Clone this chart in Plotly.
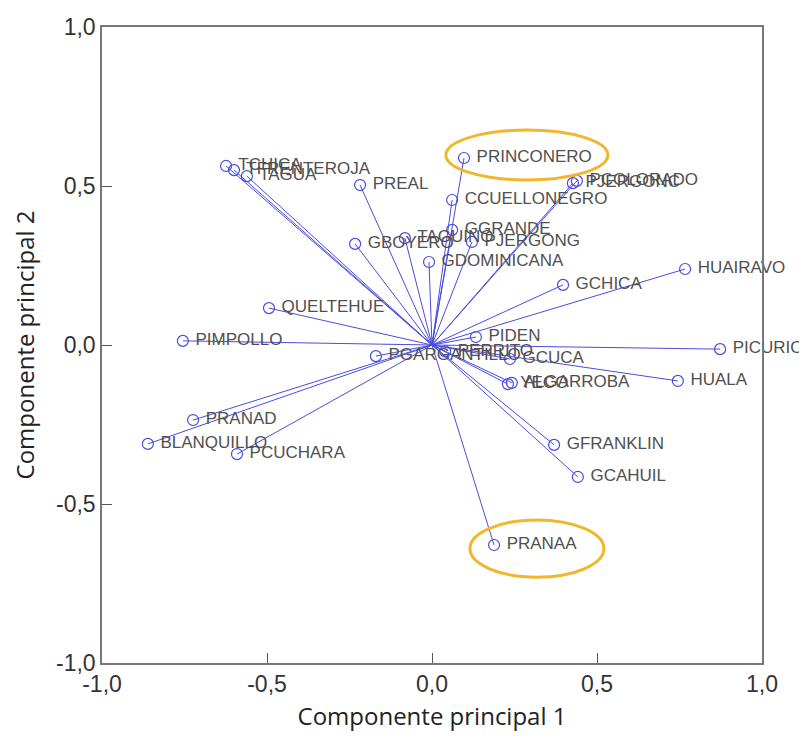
import plotly.graph_objects as go

labels = ["TCHICA", "TFRENTEROJA", "TAGUA", "PREAL", "PRINCONERO", "CCUELLONEGRO",
          "PJERGONC", "PCOLORADO", "GBOYERO", "TAGUINO", "GGRANDE", "PJERGONG",
          "GDOMINICANA", "HUAIRAVO", "GCHICA", "QUELTEHUE", "PIMPOLLO", "PIDEN",
          "PICURIO", "GCUCA", "HUALA", "YECO", "ALGARROBA", "GFRANKLIN", "GCAHUIL",
          "PRANAA", "PRANAD", "BLANQUILLO", "PCUCHARA", "PGARGANTILLO", "PERRITO"]
comp1 = [-0.624, -0.600, -0.561, -0.218, 0.097, 0.061,
         0.427, 0.439, -0.233, -0.082, 0.061, 0.121,
         -0.009, 0.767, 0.397, -0.494, -0.755, 0.133,
         0.873, 0.236, 0.745, 0.230, 0.242, 0.370, 0.442,
         0.188, -0.724, -0.861, -0.591, -0.170, 0.040]
comp2 = [0.563, 0.550, 0.531, 0.503, 0.588, 0.456,
         0.509, 0.516, 0.318, 0.336, 0.362, 0.324,
         0.261, 0.239, 0.189, 0.116, 0.013, 0.025,
         -0.013, -0.044, -0.113, -0.123, -0.119, -0.314, -0.415,
         -0.629, -0.236, -0.311, -0.343, -0.035, -0.020]
highlighted = ["PRINCONERO", "PRANAA"]
tick_vals = [-1.0, -0.5, 0.0, 0.5, 1.0]
tick_text = ["-1,0", "-0,5", "0,0", "0,5", "1,0"]

blue = "#4b4be0"
fig = go.Figure()

lx, ly = [], []
for a, b in zip(comp1, comp2):
    lx += [0, a, None]
    ly += [0, b, None]
fig.add_trace(go.Scatter(x=lx, y=ly, mode="lines",
                         line=dict(color=blue, width=1), hoverinfo="skip"))
fig.add_trace(go.Scatter(x=comp1, y=comp2, mode="markers+text",
                         text=[" " + t for t in labels],
                         textposition="middle right", cliponaxis=False,
                         textfont=dict(family="Liberation Sans, Arial", size=17, color="#505050"),
                         marker=dict(symbol="circle-open", size=11, color=blue,
                                     line=dict(width=1.2, color=blue))))

# highlight ellipses around two labels (offsets relative to the data points)
ell = {"PRINCONERO": (-0.055, 0.436, -0.069, 0.088), "PRANAA": (-0.073, 0.333, -0.101, 0.079)}
for name in highlighted:
    i = labels.index(name)
    d = ell[name]
    fig.add_shape(type="circle", xref="x", yref="y",
                  x0=comp1[i] + d[0], x1=comp1[i] + d[1],
                  y0=comp2[i] + d[2], y1=comp2[i] + d[3],
                  line=dict(color="#f2b62c", width=3))

axis_common = dict(range=[-1, 1], tickvals=tick_vals, ticktext=tick_text,
                   showgrid=False, zeroline=False, showline=True, mirror=True,
                   linecolor="#777777", linewidth=1.5, ticks="inside", ticklen=10,
                   tickcolor="#555555", automargin=False,
                   tickfont=dict(family="Liberation Sans, Arial", size=23, color="#333333"))
fig.update_xaxes(title=dict(text="Componente principal 1",
                            font=dict(family="Open Sans, Lato", size=24, color="#222222"),
                            standoff=12), **axis_common)
fig.update_yaxes(title=dict(text="Componente principal 2",
                            font=dict(family="Open Sans, Lato", size=24, color="#222222"),
                            standoff=19), **axis_common)
fig.update_layout(width=807, height=740, showlegend=False,
                  paper_bgcolor="white", plot_bgcolor="white",
                  margin=dict(l=94, r=53, t=19, b=85))
fig.write_html("out.html")
